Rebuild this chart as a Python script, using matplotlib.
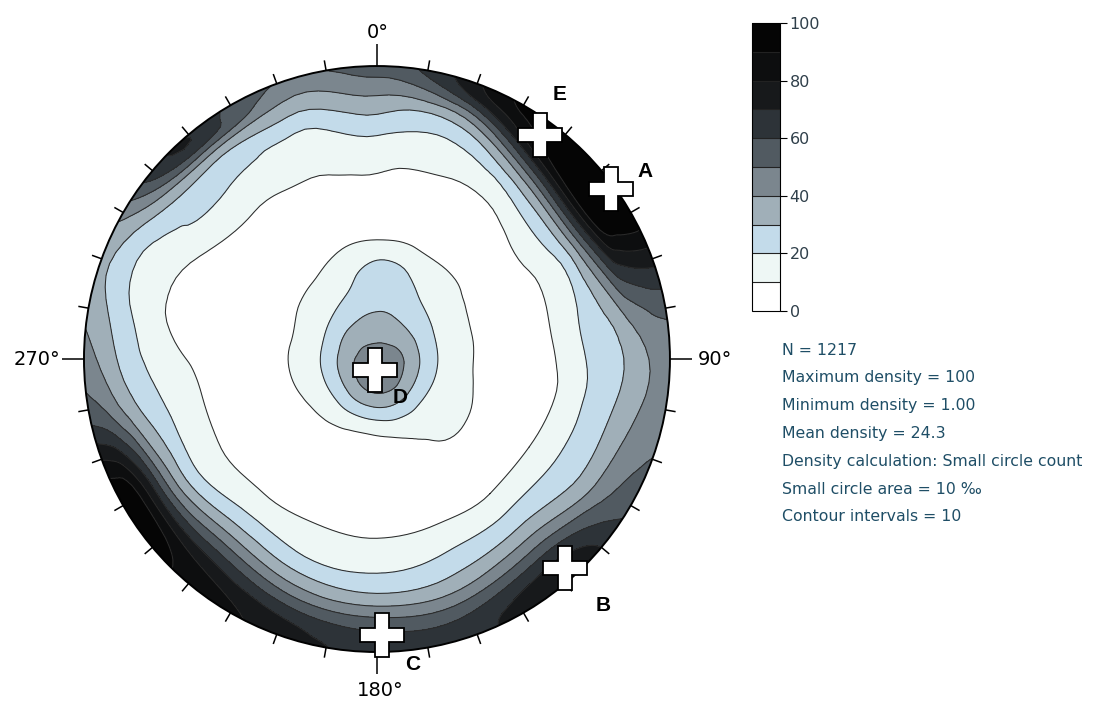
"""Stereonet density plot (small circle count) with colour bar and summary text."""

import matplotlib
import numpy as np

matplotlib.use("Agg")
import matplotlib.pyplot as plt
import matplotlib.tri as mtri
from matplotlib.cm import ScalarMappable
from matplotlib.colors import BoundaryNorm, ListedColormap
from matplotlib.patches import Circle

# density readings on a polar grid (azimuth clockwise from north, radius as fraction of the net)
AZIMUTHS = [0, 20, 40, 60, 80, 100, 120, 140, 160, 180, 200, 220, 240, 260, 280, 300, 320, 340]
RING_RADII = [0.1, 0.2, 0.3, 0.4, 0.5, 0.6, 0.7, 0.8, 0.87, 0.94, 1.02]
CENTER_DENSITY = 44
ring_010 = [36, 36, 36, 37, 38, 39, 40, 42, 43, 43, 42, 40, 38, 37, 36, 36, 36, 36]
ring_020 = [28, 27, 24, 22, 21, 21, 21, 22, 23, 22, 21, 20, 19, 19, 19, 20, 22, 25]
ring_030 = [24, 21, 15, 13, 12, 12, 13, 12, 9, 6, 6, 8, 9, 10, 10, 11, 13, 17]
ring_040 = [11, 10, 9, 7, 6, 6, 8, 8, 5, 4, 4, 4, 4, 4, 5, 5, 6, 9]
ring_050 = [4, 4, 4, 4, 4, 4, 4, 4, 4, 3, 3, 3, 3, 3, 2, 2, 3, 3]
ring_060 = [8, 6, 7, 10, 10, 8, 10, 10, 10, 9, 10, 10, 9, 9, 4, 4, 7, 7]
ring_070 = [14, 12, 18, 20, 20, 18, 20, 22, 20, 17, 18, 22, 17, 16, 8, 10, 13, 12]
ring_080 = [25, 22, 45, 52, 30, 27, 30, 40, 33, 30, 35, 45, 38, 25, 16, 17, 22, 18]
ring_087 = [35, 38, 78, 86, 42, 35, 42, 58, 48, 47, 53, 65, 65, 35, 22, 23, 30, 28]
ring_094 = [47, 66, 96, 98, 50, 42, 52, 74, 63, 62, 70, 82, 92, 48, 31, 34, 60, 41]
ring_edge = [56, 80, 100, 100, 54, 46, 58, 76, 68, 68, 76, 88, 98, 56, 38, 46, 68, 52]
RINGS = [ring_010, ring_020, ring_030, ring_040, ring_050, ring_060,
         ring_070, ring_080, ring_087, ring_094, ring_edge]

LEVELS = [0, 10, 20, 30, 40, 50, 60, 70, 80, 90, 100]
BAND_COLORS = ["#ffffff", "#eef7f5", "#c3dbea", "#a0afb8", "#7b868e",
               "#515a61", "#2d3338", "#17191b", "#0d0e0f", "#050505"]

# marked poles
CROSS_LABELS = ["A", "B", "C", "D", "E"]
CROSS_AZIMUTHS = [54, 138, 179, 190, 36]
CROSS_RADII = [0.986, 0.961, 0.942, 0.038, 0.946]
LABEL_OFFSETS = [(25, 13), (27, -27), (22, -21), (18, -20), (14, 29)]

INFO_LINES = [
    "N = 1217",
    "Maximum density = 100",
    "Minimum density = 1.00",
    "Mean density = 24.3",
    "Density calculation: Small circle count",
    "Small circle area = 10 \u2030",
    "Contour intervals = 10",
]
TEXT_COLOR = "#1f4e66"

fig = plt.figure(figsize=(10.96, 7.01), dpi=100)
ax = fig.add_axes([0.0499, 0.0281, 0.5881, 0.9195])
ax.set_xlim(-1.1, 1.1)
ax.set_ylim(-1.1, 1.1)
ax.set_aspect("equal")
ax.axis("off")

az = np.deg2rad(AZIMUTHS)
xs = [0.0]
ys = [0.0]
zs = [CENTER_DENSITY]
for radius, ring in zip(RING_RADII, RINGS):
    xs.extend(radius * np.sin(az))
    ys.extend(radius * np.cos(az))
    zs.extend(ring)

tri = mtri.Triangulation(np.array(xs), np.array(ys))
fine_tri, fine_z = mtri.UniformTriRefiner(tri).refine_field(np.array(zs, dtype=float), subdiv=3)
fine_z = np.clip(fine_z, 0.5, 99.9)

net = Circle((0, 0), 1.0, transform=ax.transData)
bands = ax.tricontourf(fine_tri, fine_z, levels=LEVELS, colors=BAND_COLORS)
lines = ax.tricontour(fine_tri, fine_z, levels=LEVELS[1:-1], colors="#2b2b2b", linewidths=0.75)
bands.set_clip_path(net)
lines.set_clip_path(net)
ax.add_patch(Circle((0, 0), 1.0, fill=False, lw=1.4, ec="black", zorder=3))

for a in range(0, 360, 10):
    length = 0.075 if a % 90 == 0 else 0.035
    t = np.deg2rad(a)
    ax.plot([np.sin(t), (1 + length) * np.sin(t)], [np.cos(t), (1 + length) * np.cos(t)],
            color="black", lw=1.1, solid_capstyle="butt", zorder=3)

ax.text(0.003, 1.113, "0\u00b0", ha="center", va="center", fontsize=14)
ax.text(1.096, 0.0, "90\u00b0", ha="left", va="center", fontsize=14)
ax.text(0.01, -1.13, "180\u00b0", ha="center", va="center", fontsize=14)
ax.text(-1.082, 0.0, "270\u00b0", ha="right", va="center", fontsize=14)

for label, a, r, offset in zip(CROSS_LABELS, CROSS_AZIMUTHS, CROSS_RADII, LABEL_OFFSETS):
    t = np.deg2rad(a)
    x, y = r * np.sin(t), r * np.cos(t)
    ax.plot(x, y, marker="P", ms=31, mfc="white", mec="black", mew=1.3, ls="none", zorder=5)
    ax.annotate(label, (x, y), xytext=offset, textcoords="offset points", ha="center", va="center",
                fontsize=15, fontweight="bold", family="Liberation Sans", zorder=6)

cax = fig.add_axes([0.6861, 0.5563, 0.0255, 0.4108])
cmap = ListedColormap(BAND_COLORS)
norm = BoundaryNorm(LEVELS, cmap.N)
cb = fig.colorbar(ScalarMappable(norm=norm, cmap=cmap), cax=cax, ticks=[0, 20, 40, 60, 80, 100], drawedges=True)
cb.minorticks_off()
cb.outline.set_linewidth(0.8)
cb.dividers.set_color("#222222")
cb.dividers.set_linewidth(0.8)
cax.tick_params(length=5, width=0.8, labelsize=11.5, labelcolor="#2f3f4a", pad=2)

for i, line in enumerate(INFO_LINES):
    fig.text(782 / 1096, 1 - (350 + 27.8 * i) / 701, line, ha="left", va="center",
             fontsize=11.3, color=TEXT_COLOR)

fig.savefig("out.png", dpi=100)
